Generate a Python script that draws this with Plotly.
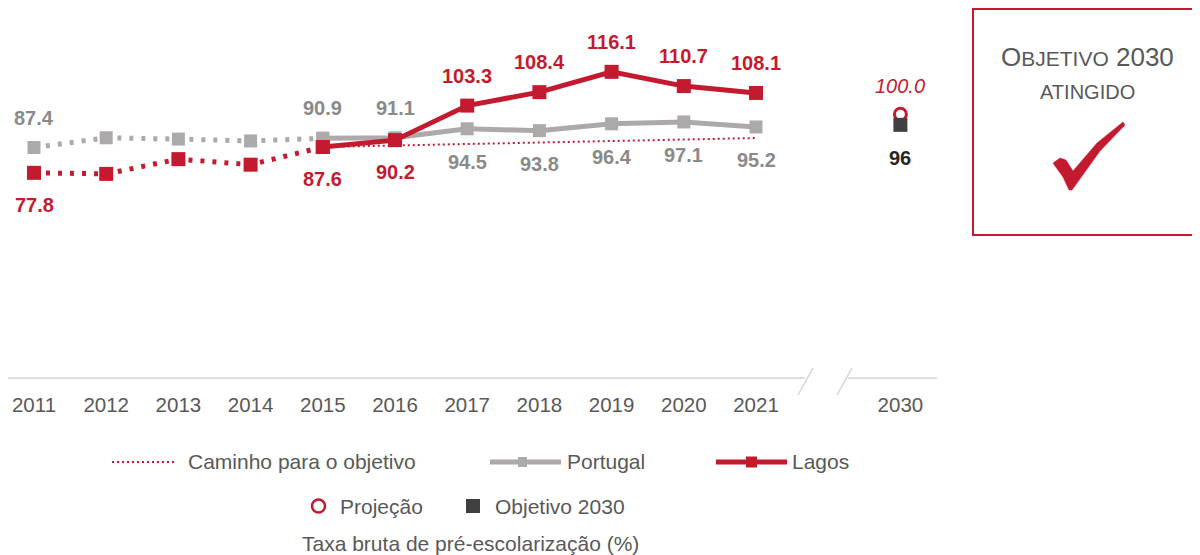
import plotly.graph_objects as go

anos = ['2011', '2012', '2013', '2014', '2015', '2016', '2017', '2018', '2019', '2020', '2021']
portugal = [87.4, 91.1, 90.6, 89.9, 90.9, 91.1, 94.5, 93.8, 96.4, 97.1, 95.2]
lagos = [77.8, 77.4, 83.0, 80.9, 87.6, 90.2, 103.3, 108.4, 116.1, 110.7, 108.1]
caminho_anos = ['2015', '2016', '2017', '2018', '2019', '2020', '2021']
caminho = [87.6, 88.2, 88.7, 89.3, 89.8, 90.4, 91.0]
ano_meta = '2030'
projecao = 100.0
objetivo = 96
eixo_x = anos + [' ', ano_meta]

# anos com rotulo: Portugal em cima nestes, em baixo nos restantes (Lagos ao contrario)
rot_anos = ['2011', '2015', '2016', '2017', '2018', '2019', '2020', '2021']
pt_em_cima = ['2011', '2015', '2016']

RED = '#C41A30'
GRAY = '#ADA9A8'
GRAY_TXT = '#8A8A8A'
DARK = '#404040'
TXT = '#595959'
FONT = 'Liberation Sans, Arial, sans-serif'

# a pagina tem margem de 8px: coordenadas abaixo sao do ecra (s), figura = s - 8
OFF = 8
W, H = 1200 - OFF, 555 - OFF
PW, PH = 937 - OFF, 378 - OFF
def px(s):
    return (s - OFF) / PW
def py(s):
    return (PH - (s - OFF)) / PH

def xi(a):
    return eixo_x.index(a)

fig = go.Figure()

fig.add_trace(go.Scatter(x=caminho_anos, y=caminho, mode='lines',
                         line=dict(color=RED, width=2, dash='2px,3px'),
                         showlegend=False, hoverinfo='skip'))
fig.add_trace(go.Scatter(x=anos[:5], y=portugal[:5], mode='lines+markers',
                         line=dict(color=GRAY, width=5, dash='4px,8px'),
                         marker=dict(symbol='square', size=13, color=GRAY),
                         showlegend=False))
fig.add_trace(go.Scatter(x=anos[4:], y=portugal[4:], mode='lines+markers',
                         line=dict(color=GRAY, width=5),
                         marker=dict(symbol='square', size=13, color=GRAY),
                         name='Portugal', showlegend=False))
fig.add_trace(go.Scatter(x=anos[:5], y=lagos[:5], mode='lines+markers',
                         line=dict(color=RED, width=5, dash='4px,8px'),
                         marker=dict(symbol='square', size=14, color=RED),
                         showlegend=False))
fig.add_trace(go.Scatter(x=anos[4:], y=lagos[4:], mode='lines+markers',
                         line=dict(color=RED, width=5),
                         marker=dict(symbol='square', size=14, color=RED),
                         name='Lagos', showlegend=False))
fig.add_trace(go.Scatter(x=[ano_meta], y=[projecao], mode='markers',
                         marker=dict(symbol='circle-open', size=12, color=RED,
                                     line=dict(width=3, color=RED)),
                         name='Projeção', showlegend=False))
fig.add_trace(go.Scatter(x=[ano_meta], y=[objetivo], mode='markers',
                         marker=dict(symbol='square', size=14, color=DARK),
                         name='Objetivo 2030', showlegend=False))

# rotulos dos valores
for a, v in zip(anos, portugal):
    if a in rot_anos:
        fig.add_annotation(x=xi(a), y=v, text=f'{v:.1f}', showarrow=False,
                           yshift=30 if a in pt_em_cima else -33,
                           font=dict(size=20, color=GRAY_TXT, weight='bold'))
for a, v in zip(anos, lagos):
    if a in rot_anos:
        fig.add_annotation(x=xi(a), y=v, text=f'{v:.1f}', showarrow=False,
                           yshift=-32 if a in pt_em_cima else 30,
                           font=dict(size=20, color=RED, weight='bold'))
fig.add_annotation(x=xi(ano_meta), y=projecao, text=f'{projecao:.1f}', showarrow=False,
                   yshift=28, font=dict(size=20, color=RED, style='italic'))
fig.add_annotation(x=xi(ano_meta), y=objetivo, text=f'{objetivo}', showarrow=False,
                   yshift=-33, font=dict(size=20, color='#262626', weight='bold'))

shapes = []
# eixo com quebra
axc = '#D4D4D4'
shapes.append(dict(type='line', xref='paper', yref='paper', x0=px(0), x1=px(805),
                   y0=py(378), y1=py(378), line=dict(color=axc, width=1.5)))
shapes.append(dict(type='line', xref='paper', yref='paper', x0=px(848), x1=px(937),
                   y0=py(378), y1=py(378), line=dict(color=axc, width=1.5)))
for x0, x1 in [(798, 813), (837, 852)]:
    shapes.append(dict(type='line', xref='paper', yref='paper', x0=px(x0), x1=px(x1),
                       y0=py(395), y1=py(368), line=dict(color=axc, width=1.5)))

# caixa "objetivo atingido"
shapes.append(dict(type='rect', xref='paper', yref='paper', x0=px(973), x1=px(1198),
                   y0=py(235), y1=py(9), line=dict(color=RED, width=2)))
check = [(1053, 163), (1060, 158), (1066, 160), (1073, 171), (1097, 143), (1123, 122),
         (1125, 125), (1100, 151), (1072, 190), (1069, 190), (1063, 177), (1055, 166)]
path = 'M ' + ' L '.join(f'{px(x):.5f},{py(y):.5f}' for x, y in check) + ' Z'
shapes.append(dict(type='path', xref='paper', yref='paper', path=path,
                   fillcolor=RED, line=dict(color=RED, width=0.5)))

# legenda
ly1, ly2 = 462, 506
shapes.append(dict(type='line', xref='paper', yref='paper', x0=px(112), x1=px(176),
                   y0=py(ly1), y1=py(ly1), line=dict(color=RED, width=2, dash='2px,3px')))
shapes.append(dict(type='line', xref='paper', yref='paper', x0=px(490), x1=px(561),
                   y0=py(ly1), y1=py(ly1), line=dict(color=GRAY, width=5)))
shapes.append(dict(type='rect', xref='paper', yref='paper', x0=px(518), x1=px(527),
                   y0=py(ly1 + 5), y1=py(ly1 - 5), fillcolor=GRAY, line=dict(width=0)))
shapes.append(dict(type='line', xref='paper', yref='paper', x0=px(716), x1=px(787),
                   y0=py(ly1), y1=py(ly1), line=dict(color=RED, width=5)))
shapes.append(dict(type='rect', xref='paper', yref='paper', x0=px(746), x1=px(757),
                   y0=py(ly1 + 5.5), y1=py(ly1 - 5.5), fillcolor=RED, line=dict(width=0)))
shapes.append(dict(type='circle', xref='paper', yref='paper', x0=px(312), x1=px(325),
                   y0=py(ly2 + 6.5), y1=py(ly2 - 6.5), line=dict(color=RED, width=2.5)))
shapes.append(dict(type='rect', xref='paper', yref='paper', x0=px(466), x1=px(480),
                   y0=py(ly2 + 7), y1=py(ly2 - 7), fillcolor=DARK, line=dict(width=0)))

def texto(x, y, t, size=21, color=TXT, anchor='left'):
    fig.add_annotation(xref='paper', yref='paper', x=px(x), y=py(y), text=t,
                       showarrow=False, xanchor=anchor, yanchor='middle',
                       font=dict(size=size, color=color))

texto(186, ly1, 'Caminho para o objetivo')
texto(565, ly1, 'Portugal')
texto(790, ly1, 'Lagos')
texto(338, ly2, 'Projeção')
texto(493, ly2, 'Objetivo 2030')
texto(470, 543, 'Taxa bruta de pré-escolarização (%)', anchor='center')
texto(1087, 57, 'O<span style="font-size:21px">BJETIVO</span> 2030', size=26, anchor='center')
texto(1087, 92, 'ATINGIDO', size=20, anchor='center')

fig.update_layout(
    width=W, height=H,
    margin=dict(l=0, r=W - PW, t=0, b=H - PH),
    paper_bgcolor='white', plot_bgcolor='white',
    font=dict(family=FONT, color=TXT),
    shapes=shapes,
    showlegend=False,
    xaxis=dict(type='category', categoryorder='array', categoryarray=eixo_x,
               range=[-(34 - OFF) / 72.2, (937 - 34) / 72.2], showgrid=False,
               zeroline=False, showline=False, ticks='', ticklabelstandoff=12,
               tickfont=dict(size=20.5, color=TXT), fixedrange=True),
    yaxis=dict(range=[0, PH / 2.637], visible=False, fixedrange=True),
)

fig.write_html('out.html')
